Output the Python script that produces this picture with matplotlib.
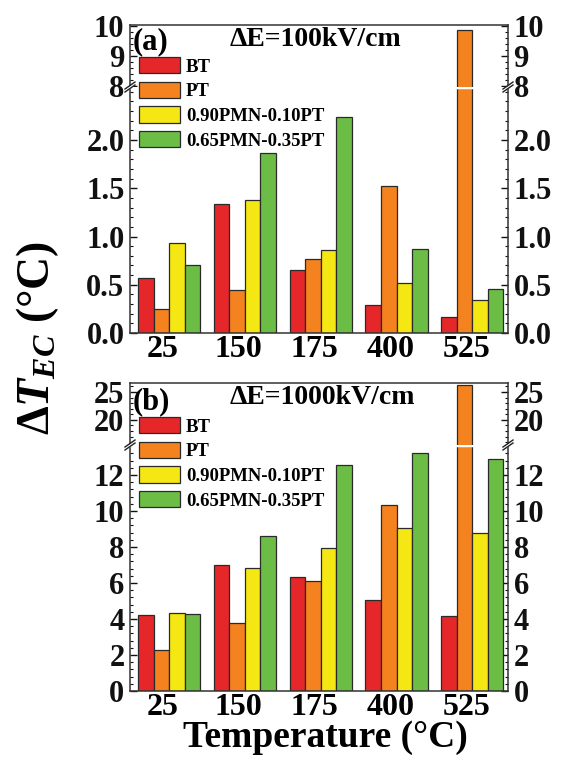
import matplotlib
matplotlib.use("Agg")
import matplotlib.pyplot as plt
from matplotlib.patches import Patch, Polygon
from matplotlib.lines import Line2D
from matplotlib.ticker import MultipleLocator

plt.rcParams["font.family"] = ["Liberation Serif", "DejaVu Serif"]
plt.rcParams["font.weight"] = "bold"
plt.rcParams["mathtext.fontset"] = "custom"
plt.rcParams["mathtext.it"] = "Liberation Serif:italic:bold"
plt.rcParams["mathtext.rm"] = "Liberation Serif:bold"

# donnees
temperatures = ["25", "150", "175", "400", "525"]
materials = ["BT", "PT", "0.90PMN-0.10PT", "0.65PMN-0.35PT"]
colors = ["#E62729", "#F4821F", "#F5E714", "#6BBD45"]

# (a) dE = 100 kV/cm
bt_100 = [0.57, 1.34, 0.65, 0.29, 0.17]
pt_100 = [0.25, 0.45, 0.77, 1.52, 9.84]
pmn90_100 = [0.93, 1.38, 0.86, 0.52, 0.34]
pmn65_100 = [0.70, 1.87, 2.24, 0.87, 0.46]

# (b) dE = 1000 kV/cm
bt_1000 = [4.20, 7.02, 6.31, 5.07, 4.15]
pt_1000 = [2.30, 3.80, 6.09, 10.33, 26.2]
pmn90_1000 = [4.35, 6.81, 7.96, 9.04, 8.78]
pmn65_1000 = [4.28, 8.59, 12.55, 13.2, 12.87]

W, H = 561, 757
fig = plt.figure(figsize=(W / 100, H / 100), dpi=100)

def fx(px):
    return px / W

def fy(py):
    return 1 - py / H

LEFT, RIGHT = 130, 508
bar_w = 0.205


def make_axes(top, brk, bottom):
    ax_hi = fig.add_axes([fx(LEFT), fy(brk), fx(RIGHT - LEFT), (brk - top) / H])
    ax_lo = fig.add_axes([fx(LEFT), fy(bottom), fx(RIGHT - LEFT), (bottom - brk) / H])
    return ax_hi, ax_lo


def style(ax):
    for s in ax.spines.values():
        s.set_linewidth(1.1)
        s.set_color("#333333")
    ax.tick_params(axis="y", which="both", direction="in", left=True, right=True,
                   labelleft=True, labelright=True, labelsize=22, pad=4, colors="#111111")
    ax.tick_params(axis="y", which="major", length=5, width=1.0)
    ax.tick_params(axis="y", which="minor", length=2.5, width=0.8)
    ax.set_xlim(-0.515, 4.47)


def draw_panel(ax_hi, ax_lo, series, lo_lim, hi_lim, lo_ticks, hi_ticks,
               lo_minor, hi_minor, brk_px):
    for ax in (ax_hi, ax_lo):
        for j, vals in enumerate(series):
            xs = [i + (j - 1.5) * bar_w for i in range(len(temperatures))]
            ax.bar(xs, vals, width=bar_w, color=colors[j], edgecolor="#2a2a2a",
                   linewidth=0.9, zorder=2)
        style(ax)
    ax_lo.set_ylim(*lo_lim)
    ax_hi.set_ylim(*hi_lim)
    ax_lo.set_yticks(lo_ticks)
    ax_hi.set_yticks(hi_ticks)
    ax_lo.yaxis.set_minor_locator(MultipleLocator(lo_minor))
    ax_hi.yaxis.set_minor_locator(MultipleLocator(hi_minor))
    ax_lo.set_yticklabels([f"{t:.1f}" if isinstance(t, float) else str(t) for t in lo_ticks])

    ax_hi.spines["bottom"].set_visible(False)
    ax_lo.spines["top"].set_visible(False)
    ax_hi.set_xticks([])
    ax_lo.set_xticks([i - 0.08 for i in range(len(temperatures))])
    ax_lo.set_xticklabels(temperatures, fontsize=23)
    ax_lo.tick_params(axis="x", length=0, pad=1.5)

    # coupure blanche a travers les barres
    ax_lo.axhline(lo_lim[1], color="white", lw=2.5, zorder=3, clip_on=True)

    # marqueurs de coupure //
    for xp in (LEFT, RIGHT):
        fig.add_artist(Polygon([(fx(xp - 4), fy(brk_px + 2)), (fx(xp + 4), fy(brk_px - 4)),
                                (fx(xp + 4), fy(brk_px - 1)), (fx(xp - 4), fy(brk_px + 5))],
                               closed=True, color="white", lw=0))
        for off in (-1.5, 1.5):
            fig.add_artist(Line2D([fx(xp - 5), fx(xp + 5)],
                                  [fy(brk_px + 3.5 + off), fy(brk_px - 3.5 + off)],
                                  color="#222222", lw=1.0))


# panneau (a)
ax_a_hi, ax_a_lo = make_axes(25, 87, 333)
draw_panel(ax_a_hi, ax_a_lo, [bt_100, pt_100, pmn90_100, pmn65_100],
           (0, 2.55), (7.98, 10.02), [0.0, 0.5, 1.0, 1.5, 2.0], [8, 9, 10],
           0.1, 0.2, 87)

# panneau (b)
ax_b_hi, ax_b_lo = make_axes(383, 445, 691)
draw_panel(ax_b_hi, ax_b_lo, [bt_1000, pt_1000, pmn90_1000, pmn65_1000],
           (0, 13.67), (15.5, 26.6), [0, 2, 4, 6, 8, 10, 12], [20, 25],
           0.4, 1, 445)

# legendes
handles = [Patch(facecolor=c, edgecolor="#2a2a2a", linewidth=0.9) for c in colors]
for ytop in (57, 417):
    fig.legend(handles, materials, loc="upper left", bbox_to_anchor=(fx(139), fy(ytop)),
               frameon=False, fontsize=13.5, handlelength=2.2, handleheight=0.95,
               handletextpad=0.3, labelspacing=0.33, borderpad=0, borderaxespad=0)

# textes
fig.text(fx(133), fy(42), "(a)", fontsize=22, ha="left", va="center")
fig.text(fx(133), fy(402), "(b)", fontsize=22, ha="left", va="center")
fig.text(fx(315), fy(40), "ΔE=100kV/cm", fontsize=20, ha="center", va="center")
fig.text(fx(322), fy(397), "ΔE=1000kV/cm", fontsize=20, ha="center", va="center")
fig.text(fx(38), fy(338), r"$\mathit{\Delta T}_{\mathit{EC}}$ (°C)", fontsize=33,
         rotation=90, ha="center", va="center")
fig.text(fx(325), fy(747), "Temperature (°C)", fontsize=27, ha="center", va="baseline")

fig.savefig("out.png", dpi=100)
